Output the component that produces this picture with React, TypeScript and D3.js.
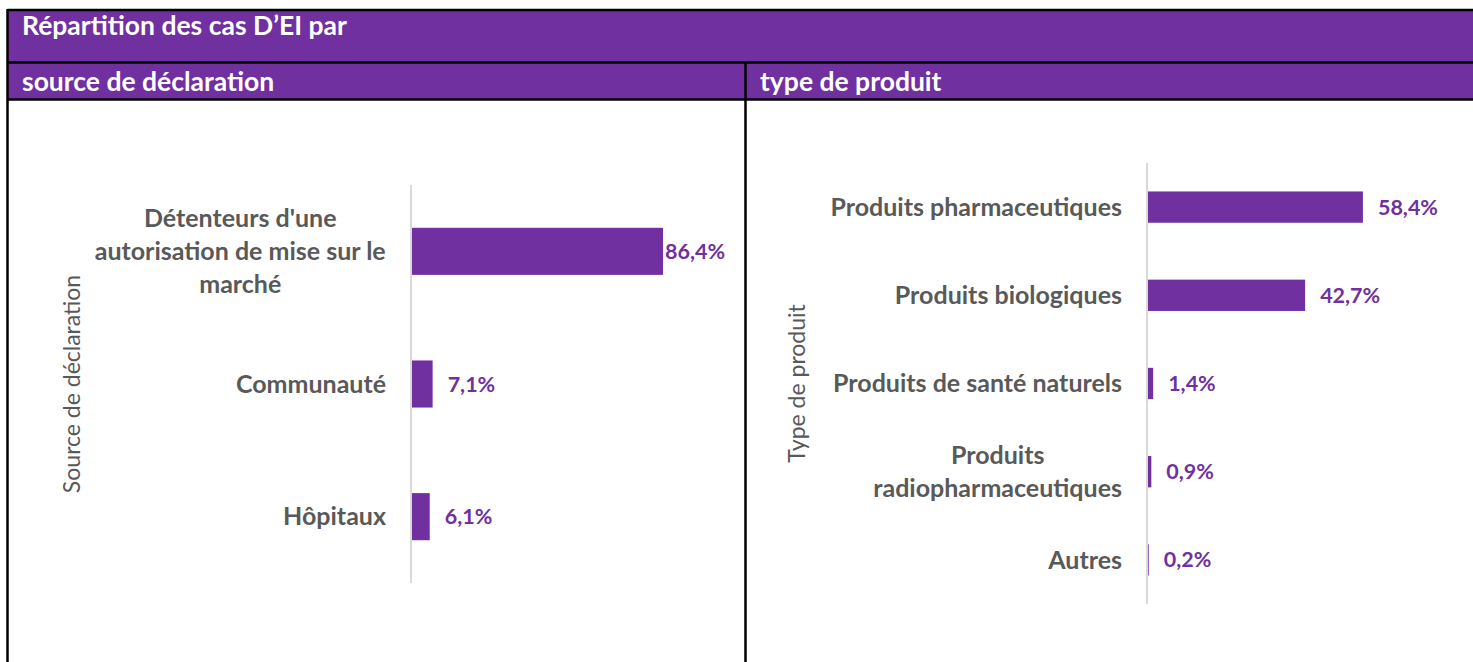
import * as d3 from "d3";
import React from "react";

// source de déclaration
const sourceCategories = [
  "Détenteurs d'une\nautorisation de mise sur le\nmarché",
  "Communauté",
  "Hôpitaux",
];
const sourceValues = [86.4, 7.1, 6.1];

// type de produit
const produitCategories = [
  "Produits pharmaceutiques",
  "Produits biologiques",
  "Produits de santé naturels",
  "Produits\nradiopharmaceutiques",
  "Autres",
];
const produitValues = [58.4, 42.7, 1.4, 0.9, 0.2];

const titleText = "Répartition des cas D’EI par";
const panelTitles = ["source de déclaration", "type de produit"];
const axisTitles = ["Source de déclaration", "Type de produit"];

const W = 1473;
const H = 662;
const PURPLE = "#7030A0";
const GRAY = "#595959";
const FONT = "Lato, 'Open Sans', sans-serif";

const fmt = (v: number) => v.toFixed(1).replace(".", ",") + "%";

let ctx: CanvasRenderingContext2D | null = null;
function measure(text: string, font: string) {
  if (!ctx) ctx = document.createElement("canvas").getContext("2d");
  if (!ctx) return text.length * 10;
  ctx.font = font;
  return ctx.measureText(text).width;
}

function BarPanel(props: {
  categories: string[];
  values: number[];
  axisX: number;
  yRange: [number, number];
  pxPerPct: number;
  plotRight: number;
  axisTitle: string;
  axisTitleX: number;
}) {
  const { categories, values, axisX, yRange, pxPerPct, plotRight } = props;
  const x = d3
    .scaleLinear()
    .domain([0, 100])
    .range([axisX + 1, axisX + 1 + pxPerPct * 100]);
  const y = d3
    .scaleBand<string>()
    .domain(categories)
    .range(yRange)
    .paddingInner(0.645)
    .paddingOuter(0.3225);

  const catSize = 25;
  const valSize = 21.5;
  const catFont = `bold ${catSize}px Lato`;
  const valFont = `bold ${valSize}px Lato`;
  const lineH = 33;
  const labelRight = axisX - 25;

  return (
    <g>
      <line
        x1={axisX}
        x2={axisX}
        y1={yRange[0]}
        y2={yRange[1]}
        stroke="#D9D9D9"
        strokeWidth={2}
      />
      {categories.map((c, i) => {
        const v = values[i];
        const yc = (y(c) ?? 0) + y.bandwidth() / 2;
        const lines = c.split("\n");
        const blockW = d3.max(lines, (l) => measure(l, catFont)) ?? 0;
        const cx = labelRight - blockW / 2;
        const y0 = yc - ((lines.length - 1) * lineH) / 2;
        const lw = measure(fmt(v), valFont);
        const lx = Math.min(x(v) + 15, plotRight - lw);
        return (
          <g key={c}>
            <rect
              x={x(0)}
              y={y(c)}
              width={x(v) - x(0)}
              height={y.bandwidth()}
              fill={PURPLE}
            />
            <text
              fontFamily={FONT}
              fontWeight="bold"
              fontSize={catSize}
              fill={GRAY}
              textAnchor={lines.length > 1 ? "middle" : "end"}
            >
              {lines.map((l, j) => (
                <tspan
                  key={j}
                  x={lines.length > 1 ? cx : labelRight}
                  y={y0 + j * lineH}
                  dy="0.35em"
                >
                  {l}
                </tspan>
              ))}
            </text>
            <text
              x={lx}
              y={yc}
              dy="0.35em"
              fontFamily={FONT}
              fontWeight="bold"
              fontSize={valSize}
              fill={PURPLE}
            >
              {fmt(v)}
            </text>
          </g>
        );
      })}
      <text
        transform={`translate(${props.axisTitleX},${(yRange[0] + yRange[1]) / 2}) rotate(-90)`}
        textAnchor="middle"
        dy="0.35em"
        fontFamily={FONT}
        fontSize={23}
        fill={GRAY}
      >
        {props.axisTitle}
      </text>
    </g>
  );
}

export default function App() {
  const left = 7.5;
  const top = 10;
  const row1 = 62.5;
  const row2 = 99.5;
  const divider = 745.5;
  const headSize = 26.5;
  return (
    <svg
      width={W}
      height={H}
      style={{ position: "absolute", left: 0, top: 0, display: "block" }}
    >
      <rect x={0} y={0} width={W} height={H} fill="#fff" />
      <rect x={left} y={top} width={W} height={row2 - top} fill={PURPLE} />
      <g stroke="#000" strokeWidth={2.5} fill="none">
        <line x1={left} x2={W} y1={top} y2={top} />
        <line x1={left} x2={W} y1={row1} y2={row1} />
        <line x1={left} x2={W} y1={row2} y2={row2} />
        <line x1={left} x2={left} y1={top - 1} y2={H} />
        <line x1={divider} x2={divider} y1={row1} y2={H} />
      </g>
      <text
        x={22}
        y={35}
        fontFamily={FONT}
        fontWeight="bold"
        fontSize={headSize}
        fill="#fff"
      >
        {titleText}
      </text>
      <text
        x={22}
        y={90.5}
        fontFamily={FONT}
        fontWeight="bold"
        fontSize={headSize}
        fill="#fff"
      >
        {panelTitles[0]}
      </text>
      <text
        x={760}
        y={90.5}
        fontFamily={FONT}
        fontWeight="bold"
        fontSize={headSize}
        fill="#fff"
      >
        {panelTitles[1]}
      </text>
      <BarPanel
        categories={sourceCategories}
        values={sourceValues}
        axisX={411}
        yRange={[185, 583]}
        pxPerPct={2.905}
        plotRight={725}
        axisTitle={axisTitles[0]}
        axisTitleX={72}
      />
      <BarPanel
        categories={produitCategories}
        values={produitValues}
        axisX={1147}
        yRange={[163, 604]}
        pxPerPct={3.68}
        plotRight={1470}
        axisTitle={axisTitles[1]}
        axisTitleX={797}
      />
    </svg>
  );
}
